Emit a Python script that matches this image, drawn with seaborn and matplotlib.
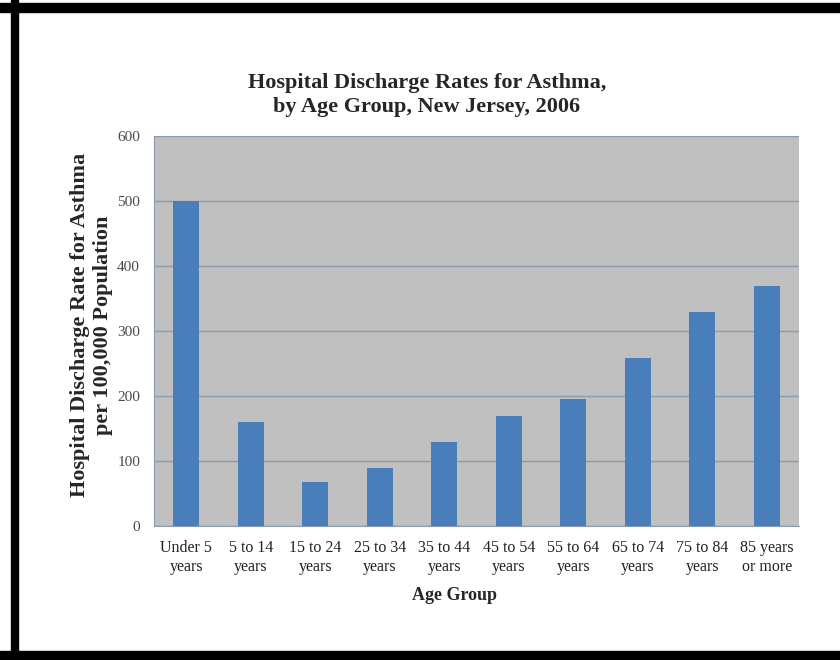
import numpy as np
import pandas as pd
import matplotlib
matplotlib.use("Agg")
import matplotlib.pyplot as plt
from matplotlib.patches import Rectangle
from matplotlib.ticker import FixedLocator
import seaborn as sns

# 数据
age_groups = ["Under 5\nyears", "5 to 14\nyears", "15 to 24\nyears", "25 to 34\nyears",
              "35 to 44\nyears", "45 to 54\nyears", "55 to 64\nyears", "65 to 74\nyears",
              "75 to 84\nyears", "85 years\nor more"]
rates = [500, 160, 68, 89, 130, 169, 195, 258, 329, 370]
y_ticks = [0, 100, 200, 300, 400, 500, 600]

df = pd.DataFrame({"age": age_groups, "rate": rates})

sns.set_style("white")
plt.rcParams["font.family"] = ["Liberation Serif", "DejaVu Serif"]

W, H = 840, 660
fig = plt.figure(figsize=(8.4, 6.6), dpi=100)
ax = fig.add_axes([154 / W, 1 - 526 / H, 645 / W, 390 / H])

sns.barplot(data=df, x="age", y="rate", color="#4a7ebb", width=0.4,
            saturation=1, linewidth=0, ax=ax, zorder=3)

ax.set_facecolor("#c0c0c0")
ax.set_ylim(0, 600)
ax.set_xlim(-0.5, len(age_groups) - 0.5)
ax.set_yticks(y_ticks)
ax.yaxis.grid(True, color="#8a9bab", linewidth=1.0, zorder=0)
ax.set_axisbelow(True)

for s in ["top", "right"]:
    ax.spines[s].set_visible(False)
ax.spines["left"].set_color("#8a9bab")
ax.spines["bottom"].set_color("#8a9bab")

ax.tick_params(axis="y", direction="out", length=5, color="#8a9bab",
               labelsize=11, labelcolor="#4a4a4a", pad=5)
ax.tick_params(axis="x", which="major", length=0, labelsize=11.5,
               labelcolor="#222222", pad=10)
for lbl in ax.get_xticklabels():
    lbl.set_linespacing(1.25)
ax.xaxis.set_minor_locator(FixedLocator(np.arange(-0.5, len(age_groups), 1.0)))
ax.tick_params(axis="x", which="minor", direction="out", length=5, color="#8a9bab")

ax.set_xlabel("Age Group", fontsize=13, fontweight="bold")
ax.xaxis.set_label_coords((455 - 154) / 645, -(587 - 526) / 390)
ax.set_ylabel("Hospital Discharge Rate for Asthma\nper 100,000 Population",
              fontsize=16, fontweight="bold", linespacing=1.2)
ax.yaxis.set_label_coords((113 - 154) / 645, (526 - 325) / 390)

fig.text(427 / W, 1 - 95 / H,
         "Hospital Discharge Rates for Asthma,\nby Age Group, New Jersey, 2006",
         ha="center", va="center", fontsize=16, fontweight="bold", linespacing=1.25)

# 黑色边框
for x, y, w, h in [(0, 3, W, 9), (11, 0, 7, H), (0, 651, W, 9)]:
    fig.patches.append(Rectangle((x / W, 1 - (y + h) / H), w / W, h / H,
                                 transform=fig.transFigure, color="black", zorder=10))

fig.savefig("out.png", dpi=100)
